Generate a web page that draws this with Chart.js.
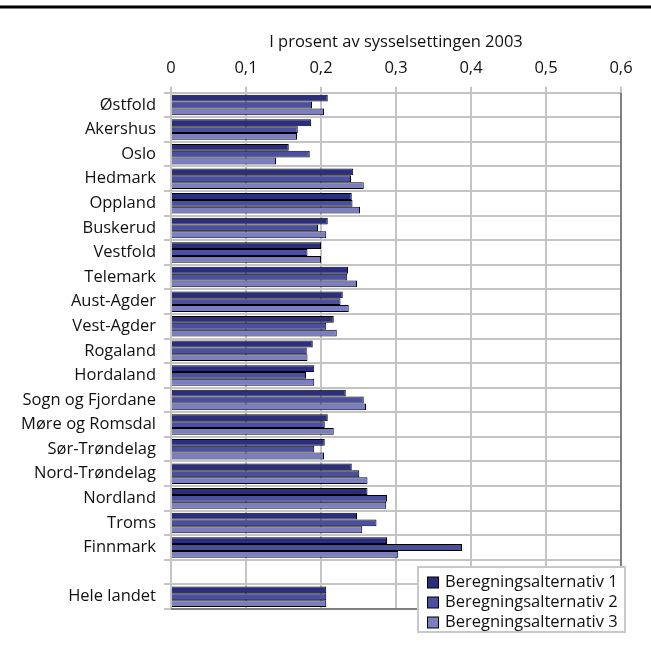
<!DOCTYPE html>
<html>
<head>
<meta charset="utf-8">
<script src="https://cdn.jsdelivr.net/npm/chart.js@4/dist/chart.umd.min.js"></script>
<style>
  html, body { margin: 0; padding: 0; background: #fff; }
  #wrap { width: 651px; height: 648px; position: relative; }
</style>
</head>
<body>
<div id="wrap"><canvas id="c" width="651" height="648"></canvas></div>
<script>
const categories = ["Østfold","Akershus","Oslo","Hedmark","Oppland","Buskerud","Vestfold","Telemark","Aust-Agder","Vest-Agder","Rogaland","Hordaland","Sogn og Fjordane","Møre og Romsdal","Sør-Trøndelag","Nord-Trøndelag","Nordland","Troms","Finnmark","","Hele landet"];
const alt1 = [0.209,0.187,0.157,0.243,0.241,0.209,0.200,0.236,0.229,0.217,0.189,0.191,0.233,0.209,0.205,0.241,0.262,0.248,0.288,null,0.207];
const alt2 = [0.188,0.169,0.185,0.240,0.242,0.196,0.182,0.235,0.226,0.207,0.181,0.180,0.257,0.205,0.191,0.251,0.288,0.274,0.388,null,0.207];
const alt3 = [0.204,0.168,0.140,0.257,0.252,0.207,0.200,0.248,0.237,0.221,0.182,0.191,0.260,0.217,0.204,0.262,0.287,0.255,0.303,null,0.207];
const seriesNames = ["Beregningsalternativ 1","Beregningsalternativ 2","Beregningsalternativ 3"];
const xTicks = ["0","0,1","0,2","0,3","0,4","0,5","0,6"];
const axisTitle = "I prosent av sysselsettingen 2003";

const colors = ["#2b2e7d","#4a4fa0","#7b7ec0"];
const FONT = "'Open Sans', 'Noto Sans', sans-serif";
const FS = 16.5;

const decor = {
  id: 'decor',
  afterDraw(chart) {
    const ctx = chart.ctx, a = chart.chartArea;
    ctx.save();
    ctx.fillStyle = '#000';
    ctx.fillRect(0, 5.5, 651, 3);
    ctx.strokeStyle = '#808080';
    ctx.lineWidth = 2;
    ctx.beginPath();
    ctx.moveTo(a.right, a.top);
    ctx.lineTo(a.right, a.bottom);
    ctx.lineTo(a.left, a.bottom);
    ctx.stroke();
    const lx = 418, ly = 567, lw = 207, lh = 65;
    ctx.fillStyle = '#fff';
    ctx.fillRect(lx, ly, lw, lh);
    ctx.strokeStyle = '#c8c8c8';
    ctx.lineWidth = 2;
    ctx.strokeRect(lx, ly, lw, lh);
    ctx.font = FS + "px " + FONT;
    ctx.textBaseline = 'middle';
    ctx.textAlign = 'left';
    chart.data.datasets.forEach((ds, i) => {
      const cy = 582.5 + i * 20;
      ctx.fillStyle = ds.backgroundColor;
      ctx.fillRect(427.5, cy - 5.5, 11, 11);
      ctx.strokeStyle = '#000';
      ctx.lineWidth = 1;
      ctx.strokeRect(427.5, cy - 5.5, 11, 11);
      ctx.fillStyle = '#111';
      ctx.fillText(ds.label, 445, cy);
    });
    ctx.restore();
  }
};

new Chart(document.getElementById('c'), {
  type: 'bar',
  data: {
    labels: categories,
    datasets: [
      { label: seriesNames[0], data: alt1, backgroundColor: colors[0] },
      { label: seriesNames[1], data: alt2, backgroundColor: colors[1] },
      { label: seriesNames[2], data: alt3, backgroundColor: colors[2] }
    ]
  },
  options: {
    indexAxis: 'y',
    responsive: false,
    animation: false,
    devicePixelRatio: 1,
    layout: { padding: { left: 0, right: 30, top: 20, bottom: 39 } },
    datasets: {
      bar: {
        categoryPercentage: 0.835,
        barPercentage: 1.0,
        borderColor: '#000',
        borderWidth: 1,
        borderSkipped: 'start'
      }
    },
    plugins: {
      legend: { display: false },
      tooltip: { enabled: false }
    },
    scales: {
      x: {
        position: 'top',
        min: 0, max: 0.6,
        afterFit(s) { s.height = 72.7; },
        ticks: {
          stepSize: 0.1,
          padding: 9,
          color: '#111',
          font: { family: FONT, size: FS },
          callback: (v, i) => xTicks[i]
        },
        grid: { color: '#c4c4c4', lineWidth: 2, tickLength: 6, drawTicks: true },
        border: { color: '#c4c4c4', width: 2 },
        title: {
          display: true,
          text: axisTitle,
          color: '#111',
          font: { family: FONT, size: FS },
          padding: { top: 12, bottom: 0 }
        }
      },
      y: {
        afterFit(s) { s.width = 171; },
        ticks: {
          padding: 8,
          color: '#111',
          font: { family: FONT, size: FS },
          autoSkip: false
        },
        grid: { color: '#c4c4c4', lineWidth: 2, tickLength: 7, offset: true },
        border: { color: '#c4c4c4', width: 2 }
      }
    }
  },
  plugins: [decor]
});
</script>
</body>
</html>
